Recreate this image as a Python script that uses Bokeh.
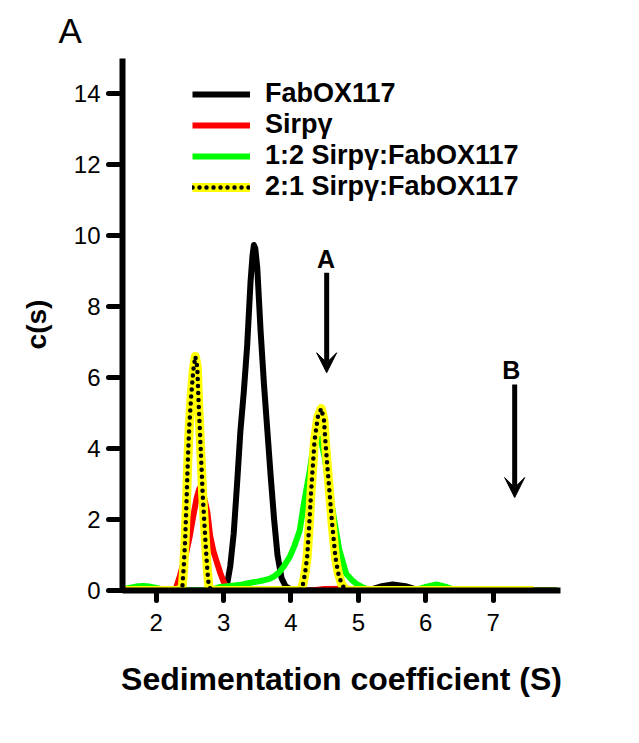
from bokeh.plotting import figure
from bokeh.models import (Range1d, FixedTicker, Legend, LegendItem, Arrow, VeeHead,
                          Title, ColumnDataSource)
from bokeh.core.properties import value
from bokeh.embed import file_html
from bokeh.resources import INLINE

# ---------------- data ----------------
black_x = [1.50, 2.90, 3.00, 3.05, 3.10, 3.15, 3.20, 3.25, 3.30, 3.35, 3.40, 3.43, 3.45, 3.47,
           3.50, 3.55, 3.60, 3.65, 3.70, 3.75, 3.80, 3.86, 3.92, 4.00, 4.20, 5.00, 5.17, 5.35,
           5.51, 5.70, 5.88, 6.00, 7.95]
black_y = [0, 0, 0.05, 0.15, 0.7, 1.6, 3.0, 4.5, 5.6, 6.9, 8.7, 9.45, 9.74, 9.65,
           9.1, 7.3, 5.8, 4.5, 3.2, 2.0, 1.0, 0.35, 0.12, 0.03, 0, 0, 0.02, 0.12,
           0.17, 0.12, 0.02, 0, 0]

red_x = [1.50, 2.25, 2.30, 2.35, 2.40, 2.45, 2.50, 2.55, 2.60, 2.64, 2.68, 2.72, 2.76, 2.80,
         2.85, 2.90, 2.95, 3.00, 3.05, 3.10, 4.30, 4.50, 4.80, 5.10, 5.25, 7.95]
red_y = [0, 0, 0.1, 0.4, 0.75, 1.1, 1.55, 2.1, 2.6, 2.87, 2.8, 2.55, 2.2, 1.55,
         1.1, 0.8, 0.5, 0.25, 0.08, 0, 0, 0.04, 0.05, 0.03, 0, 0]

green_x = [1.50, 1.60, 1.70, 1.80, 1.90, 2.00, 2.10, 2.20, 2.40, 2.70, 2.85, 2.95, 3.10, 3.25,
           3.40, 3.50, 3.60, 3.68, 3.75, 3.83, 3.90, 3.98, 4.05, 4.13, 4.20, 4.28, 4.33, 4.38,
           4.44, 4.50, 4.57, 4.65, 4.72, 4.82, 4.90, 4.97, 5.05, 5.12, 5.30, 5.70, 5.85, 6.00,
           6.16, 6.30, 6.43, 6.60, 7.95]
green_y = [0.03, 0.07, 0.11, 0.13, 0.11, 0.07, 0.03, 0.01, 0, 0, 0.04, 0.10, 0.13, 0.16,
           0.22, 0.25, 0.29, 0.33, 0.40, 0.52, 0.70, 0.94, 1.25, 1.69, 2.54, 3.39, 4.05, 4.22,
           4.28, 3.76, 2.82, 1.89, 1.13, 0.47, 0.30, 0.19, 0.10, 0.05, 0.01, 0, 0.02, 0.10,
           0.17, 0.10, 0.02, 0, 0]

yellow_x = [1.50, 2.30, 2.36, 2.39, 2.41, 2.43, 2.45, 2.47, 2.49, 2.52, 2.55, 2.58, 2.61, 2.625,
            2.655, 2.69, 2.73, 2.76, 2.78, 2.81, 2.85, 4.10, 4.15, 4.18, 4.21, 4.24, 4.27, 4.30,
            4.35, 4.40, 4.45, 4.49, 4.51, 4.54, 4.57, 4.61, 4.66, 4.70, 4.75, 4.80, 4.85, 7.60]
yellow_y = [0, 0, 0.02, 0.14, 0.7, 1.45, 2.5, 3.7, 4.6, 5.5, 6.2, 6.6, 6.3, 5.5,
            4.23, 2.7, 1.41, 0.55, 0.14, 0.02, 0, 0, 0.03, 0.19, 0.5, 0.94, 1.8, 2.82,
            4.23, 4.9, 5.13, 4.8, 4.23, 3.5, 2.82, 1.9, 0.94, 0.5, 0.19, 0.04, 0, 0]

series_names = ["FabOX117", "Sirpγ", "1:2 Sirpγ:FabOX117", "2:1 Sirpγ:FabOX117"]

x_ticks = [2, 3, 4, 5, 6, 7]
y_ticks = [0, 2, 4, 6, 8, 10, 12, 14]

arrow_x = [4.53, 7.32]
arrow_top = [8.96, 5.81]
arrow_tip = [6.14, 2.62]
arrow_label_x = [4.52, 7.27]
arrow_label_y = [9.36, 6.22]
arrow_labels = ["A", "B"]

panel_letter = "A"

FONT = "Liberation Sans"
W, H = 631, 730

p = figure(width=W, height=H, output_backend="svg", toolbar_location=None,
           x_range=Range1d(1.5, 8.0), y_range=Range1d(0, 15),
           min_border_left=122, min_border_right=W - 122 - 438,
           min_border_top=58, min_border_bottom=H - 590)
p.outline_line_color = None
p.grid.visible = False
p.background_fill_color = "white"

# panel letter as the plot title, pulled to the upper-left corner
p.title = Title(text=panel_letter, align="left", vertical_align="top", offset=-64,
                standoff=14, text_font=FONT, text_font_size="35px",
                text_font_style="normal", text_color="black")

for ax in (p.xaxis[0], p.yaxis[0]):
    ax.axis_line_width = 6
    ax.axis_line_color = "black"
    ax.major_tick_line_width = 5
    ax.major_tick_line_cap = "round"
    ax.major_tick_in = 0
    ax.minor_tick_line_color = None
    ax.major_label_text_font = FONT
    ax.major_label_text_font_size = "24px"
    ax.major_label_text_color = "black"
    ax.axis_label_text_font = FONT
    ax.axis_label_text_font_style = "bold"
    ax.axis_label_text_color = "black"

p.xaxis.ticker = FixedTicker(ticks=x_ticks)
p.yaxis.ticker = FixedTicker(ticks=y_ticks)
p.xaxis.major_tick_out = 10
p.yaxis.major_tick_out = 14
p.xaxis.major_label_standoff = 13
p.yaxis.major_label_standoff = 8
p.xaxis.axis_label = "Sedimentation coefficient (S)"
p.xaxis.axis_label_text_font_size = "32px"
p.xaxis.axis_label_standoff = 27
p.yaxis.axis_label = "c(s)"
p.yaxis.axis_label_text_font_size = "28px"
p.yaxis.axis_label_standoff = 19

r_black = p.line(black_x, black_y, line_color="black", line_width=6, line_join="round")
r_red = p.line(red_x, red_y, line_color="#ff0000", line_width=6, line_join="round")
r_green = p.line(green_x, green_y, line_color="#00ff00", line_width=6, line_join="round")
r_yel = p.line(yellow_x, yellow_y, line_color="#ffff00", line_width=9, line_join="round")
r_dots = p.line(yellow_x, yellow_y, line_color="black", line_width=4.5, line_dash="0 7",
                line_cap="round", line_join="round")

legend = Legend(items=[
    LegendItem(label=series_names[0], renderers=[r_black]),
    LegendItem(label=series_names[1], renderers=[r_red]),
    LegendItem(label=series_names[2], renderers=[r_green]),
    LegendItem(label=series_names[3], renderers=[r_yel, r_dots]),
], location=(70, 388), padding=0, margin=0, spacing=0,
    glyph_width=58, glyph_height=30, label_height=30, label_standoff=15,
    label_text_font=FONT, label_text_font_size="27px", label_text_font_style="bold",
    label_text_color="black",
    border_line_alpha=0, background_fill_alpha=0)
p.add_layout(legend, "center")

asrc = ColumnDataSource(dict(x=arrow_x, y0=arrow_top, y1=arrow_tip))
p.add_layout(Arrow(source=asrc, x_start="x", y_start="y0", x_end="x", y_end="y1",
                   line_width=5, line_color="black",
                   end=VeeHead(size=20, fill_color="black", line_color="black", line_width=1)))
p.text(x=arrow_label_x, y=arrow_label_y, text=arrow_labels, text_align="center",
       text_baseline="alphabetic", text_font=value(FONT), text_font_style="bold",
       text_font_size="25px", text_color="black")

open("out.html", "w").write(file_html(p, INLINE))
